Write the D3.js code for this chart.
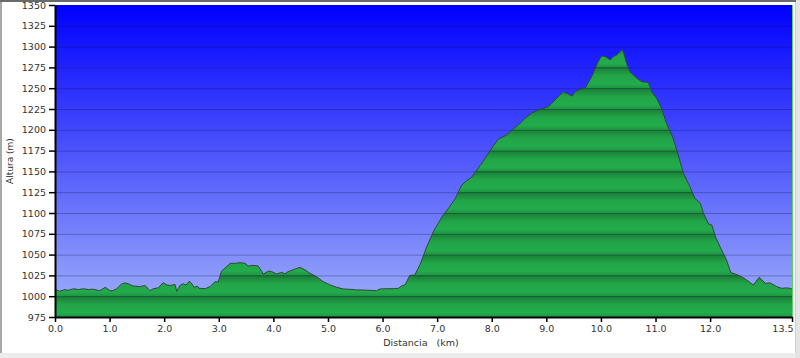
<!DOCTYPE html>
<html>
<head>
<meta charset="utf-8">
<script src="https://cdn.jsdelivr.net/npm/d3@7"></script>
<style>
  html, body { margin: 0; padding: 0; background: #ffffff; }
  svg { display: block; }
  text { font-family: "DejaVu Sans", Verdana, sans-serif; }
</style>
</head>
<body>
<svg id="chart" width="800" height="358"></svg>
<script>
// ---- data ----
const distKm = [0.00,0.09,0.18,0.24,0.34,0.43,0.52,0.61,0.70,0.79,0.82,0.92,1.01,1.07,1.13,1.22,1.28,1.34,1.43,1.56,1.65,1.74,1.80,1.89,1.98,2.05,2.11,2.20,2.23,2.29,2.35,2.40,2.46,2.50,2.55,2.61,2.64,2.75,2.84,2.93,2.99,3.05,3.11,3.21,3.30,3.39,3.48,3.54,3.63,3.72,3.82,3.91,3.97,4.06,4.15,4.21,4.27,4.40,4.49,4.58,4.67,4.79,4.91,5.04,5.16,5.28,5.40,5.53,5.65,5.77,5.89,5.95,6.08,6.20,6.29,6.35,6.41,6.50,6.59,6.69,6.81,6.93,7.02,7.11,7.20,7.33,7.45,7.54,7.63,7.75,7.88,8.00,8.12,8.27,8.37,8.49,8.61,8.73,8.85,9.04,9.19,9.31,9.40,9.47,9.53,9.62,9.71,9.83,9.95,10.01,10.08,10.17,10.23,10.29,10.38,10.41,10.47,10.53,10.56,10.66,10.75,10.87,10.93,11.02,11.11,11.20,11.30,11.39,11.51,11.63,11.72,11.82,11.88,11.97,12.03,12.11,12.21,12.30,12.38,12.46,12.55,12.67,12.79,12.90,13.01,13.10,13.22,13.31,13.40,13.46,13.50];
const elevM = [1008,1006,1008,1007,1009,1008,1009,1008,1008.5,1007,1006.5,1010.7,1006.5,1007,1009,1014.7,1016,1015,1012.3,1011.5,1013,1006.6,1009,1010,1016.3,1013.5,1013,1014,1005.8,1013,1015,1013.5,1018,1015.5,1010.7,1012,1009.5,1009,1011.5,1017.5,1017,1030,1033.5,1039.5,1039.5,1040.3,1039.5,1036.3,1037,1036.3,1026.7,1030.3,1029.5,1026.7,1028.7,1027,1029.5,1032.7,1034.7,1031.5,1027.5,1023.5,1017.5,1013.5,1010.7,1008.7,1008.3,1007.5,1007.5,1007,1006.6,1008.7,1009,1009,1009.5,1012.3,1013.5,1025,1025.5,1038.5,1059.5,1077.5,1087.6,1097.6,1105,1117,1133.6,1138.8,1142.9,1153.7,1165.7,1177.8,1188.6,1193.7,1199.8,1205.8,1213.8,1219.8,1223.8,1227.8,1237.8,1245.8,1243,1240.6,1245.8,1248.7,1249.9,1263.8,1281.8,1288.7,1288,1283.9,1288,1289.9,1295.9,1294,1279.9,1269.9,1268,1261.9,1257.8,1256.7,1245.8,1237.8,1225.8,1207.8,1193.7,1175.7,1147.7,1131.6,1117.7,1111.7,1099.6,1086.8,1085.6,1069.6,1055.5,1043.5,1028.3,1026.7,1024.3,1019.5,1013.5,1022.7,1015.5,1016,1011.5,1009.5,1010,1009.5,1008.5];
const yTicks = [975,1000,1025,1050,1075,1100,1125,1150,1175,1200,1225,1250,1275,1300,1325,1350];
const xTicks = [0,1,2,3,4,5,6,7,8,9,10,11,12,13.5];
const yTitle = "Altura (m)";
const xTitle = "Distancia   (km)";

// ---- layout ----
const L = 55, R = 792, T = 5, B = 317;
const svg = d3.select("#chart");
const x = d3.scaleLinear().domain([0, 13.5]).range([L, R]);
const y = d3.scaleLinear().domain([975, 1350]).range([B, T]);
const pts = distKm.map((d, i) => ({ d: d, e: elevM[i] }));

// frame (screenshot panel borders)
svg.append("rect").attr("x", 0).attr("y", 0).attr("width", 800).attr("height", 358).attr("fill", "#ffffff");
svg.append("rect").attr("x", 0).attr("y", 353).attr("width", 800).attr("height", 5).attr("fill", "#ececec");
svg.append("rect").attr("x", 796).attr("y", 0).attr("width", 4).attr("height", 358).attr("fill", "#e4e4e4");
svg.append("rect").attr("x", 795).attr("y", 2).attr("width", 1).attr("height", 351).attr("fill", "#cfcfcf");
svg.append("rect").attr("x", 0).attr("y", 0).attr("width", 2).attr("height", 353).attr("fill", "#a8a8a8");
svg.append("rect").attr("x", 0).attr("y", 0).attr("width", 796).attr("height", 2).attr("fill", "#6a6a6a");

const defs = svg.append("defs");
const sky = defs.append("linearGradient").attr("id", "sky")
  .attr("gradientUnits", "userSpaceOnUse").attr("x1", 0).attr("x2", 0).attr("y1", T).attr("y2", B);
sky.append("stop").attr("offset", 0).attr("stop-color", "#0000ff");
sky.append("stop").attr("offset", 1).attr("stop-color", "#a2b2fa");

const band = defs.append("linearGradient").attr("id", "band")
  .attr("gradientUnits", "userSpaceOnUse").attr("spreadMethod", "repeat")
  .attr("x1", 0).attr("x2", 0).attr("y1", y(1000)).attr("y2", y(975));
band.append("stop").attr("offset", 0).attr("stop-color", "#1a7d37");
band.append("stop").attr("offset", 0.4).attr("stop-color", "#22a548");
band.append("stop").attr("offset", 0.8).attr("stop-color", "#23ab4c");
band.append("stop").attr("offset", 1).attr("stop-color", "#1f9542");

svg.append("rect").attr("x", L).attr("y", T).attr("width", R - L).attr("height", B - T).attr("fill", "url(#sky)");

const area = d3.area().x(p => x(p.d)).y0(y(975)).y1(p => y(p.e));
svg.append("path").datum(pts).attr("d", area).attr("fill", "url(#band)");

// grid lines
svg.append("g").selectAll("line").data(yTicks.filter(v => v > 975 && v < 1350)).join("line")
  .attr("x1", L).attr("x2", R).attr("y1", v => y(v) + 0.5).attr("y2", v => y(v) + 0.5)
  .attr("stroke", "#101040").attr("stroke-opacity", 0.3).attr("stroke-width", 1);

const line = d3.line().x(p => x(p.d)).y(p => y(p.e));
svg.append("path").datum(pts).attr("d", line).attr("fill", "none")
  .attr("stroke", "#2f4a38").attr("stroke-width", 1);

// right edge green line
svg.append("line").attr("x1", R + 0.5).attr("x2", R + 0.5).attr("y1", T).attr("y2", B)
  .attr("stroke", "#5ccf5c").attr("stroke-width", 1);

// axes
const yAxis = svg.append("g").attr("transform", `translate(${L},0)`)
  .call(d3.axisLeft(y).tickValues(yTicks).tickFormat(d3.format("d")).tickSize(6).tickSizeOuter(0).tickPadding(3));
const xAxis = svg.append("g").attr("transform", `translate(0,${B})`)
  .call(d3.axisBottom(x).tickValues(xTicks).tickFormat(d3.format(".1f")).tickSize(5).tickSizeOuter(0).tickPadding(3));
[yAxis, xAxis].forEach(g => {
  g.select(".domain").attr("stroke", "#000").attr("stroke-width", 2);
  g.selectAll(".tick line").attr("stroke", "#000").attr("stroke-width", 1.5);
  g.selectAll(".tick text").attr("fill", "#333").style("font-size", "9.5px")
    .style("font-family", "'DejaVu Sans', Verdana, sans-serif");
});
// last x label sits left of its tick so it stays inside the panel
xAxis.selectAll(".tick text").filter(d => d === 13.5).attr("text-anchor", "end").attr("x", 1);

svg.append("text").attr("transform", `translate(13,${(T + B) / 2}) rotate(-90)`)
  .attr("text-anchor", "middle").attr("fill", "#333").style("font-size", "9px").text(yTitle);
svg.append("text").attr("x", 421).attr("y", 346).attr("text-anchor", "middle")
  .attr("fill", "#333").style("font-size", "9.5px").style("white-space", "pre").text(xTitle);
</script>
</body>
</html>
